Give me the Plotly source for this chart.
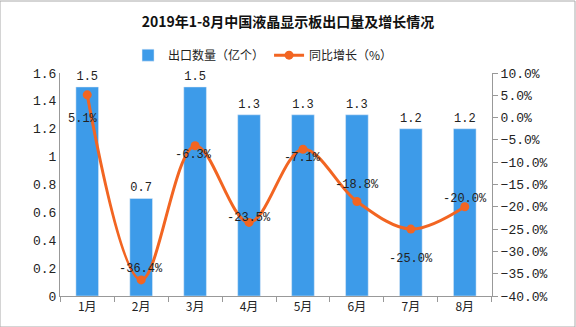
import plotly.graph_objects as go

months = ["1月", "2月", "3月", "4月", "5月", "6月", "7月", "8月"]
export_qty = [1.5, 0.7, 1.5, 1.3, 1.3, 1.3, 1.2, 1.2]
growth = [5.1, -36.4, -6.3, -23.5, -7.1, -18.8, -25.0, -20.0]
label_shift = [-24, 11, -9, 4, -9, 16, -30, 8]
label_xshift = [-4, 0, -2, 0, 0, 0, 0, 0]

font_main = "Liberation Mono, Noto Sans CJK SC, monospace"

fig = go.Figure()
fig.add_trace(go.Bar(
    x=months, y=export_qty, name="出口数量（亿个）",
    marker=dict(color="#3d9be9"), width=0.42,
    text=[f"{v:.1f}" for v in export_qty], textposition="outside",
    textfont=dict(size=12, color="#222"), cliponaxis=False,
))
fig.add_trace(go.Scatter(
    x=months, y=growth, name="同比增长（%）", yaxis="y2",
    mode="lines+markers", line=dict(color="#f26522", width=3, shape="spline", smoothing=1.0),
    marker=dict(size=9, color="#f26522"),
))
for m, g, s, xs in zip(months, growth, label_shift, label_xshift):
    fig.add_annotation(x=m, y=g, xref="x", yref="y2", text=f"{g:.1f}%",
                       showarrow=False, yshift=s, xshift=xs,
                       font=dict(size=12, color="#222", family=font_main))

fig.update_layout(
    width=576, height=327,
    margin=dict(l=60, r=84, t=73, b=31),
    paper_bgcolor="white", plot_bgcolor="white",
    font=dict(family=font_main, size=12, color="#222"),
    title=dict(text="<b>2019年1-8月中国液晶显示板出口量及增长情况</b>", x=0.5, xanchor="center",
               y=1 - 22 / 327, yanchor="middle",
               font=dict(family="Noto Sans CJK SC", size=14, color="#111")),
    legend=dict(orientation="h", x=0.47, xanchor="center", y=1.08, yanchor="middle",
                font=dict(family="Noto Sans CJK SC", size=12), bgcolor="rgba(0,0,0,0)"),
    bargap=0.58,
    showlegend=True,
    xaxis=dict(showline=True, linecolor="#999", linewidth=1, ticks="outside", tickson="boundaries",
               ticklen=5, tickcolor="#999", showgrid=False,
               tickfont=dict(family="Noto Sans CJK SC", size=12)),
    yaxis=dict(range=[0, 1.6], dtick=0.2, showline=True, linecolor="#999", linewidth=1,
               showgrid=False, zeroline=False, ticks="", tickfont=dict(size=13)),
    yaxis2=dict(range=[-40, 10], dtick=5, overlaying="y", side="right", showline=True,
                linecolor="#999", linewidth=1, showgrid=False, zeroline=False,
                ticks="outside", ticklen=5, tickcolor="#999", tickformat=".1f", ticksuffix="%",
                tickfont=dict(size=13)),
)
fig.add_shape(type="rect", xref="paper", yref="paper", x0=-60/432, x1=1 + 83/432,
              y0=-31/223, y1=1 + 72/223, line=dict(color="#aaa", width=1))

fig.write_html("out.html")
